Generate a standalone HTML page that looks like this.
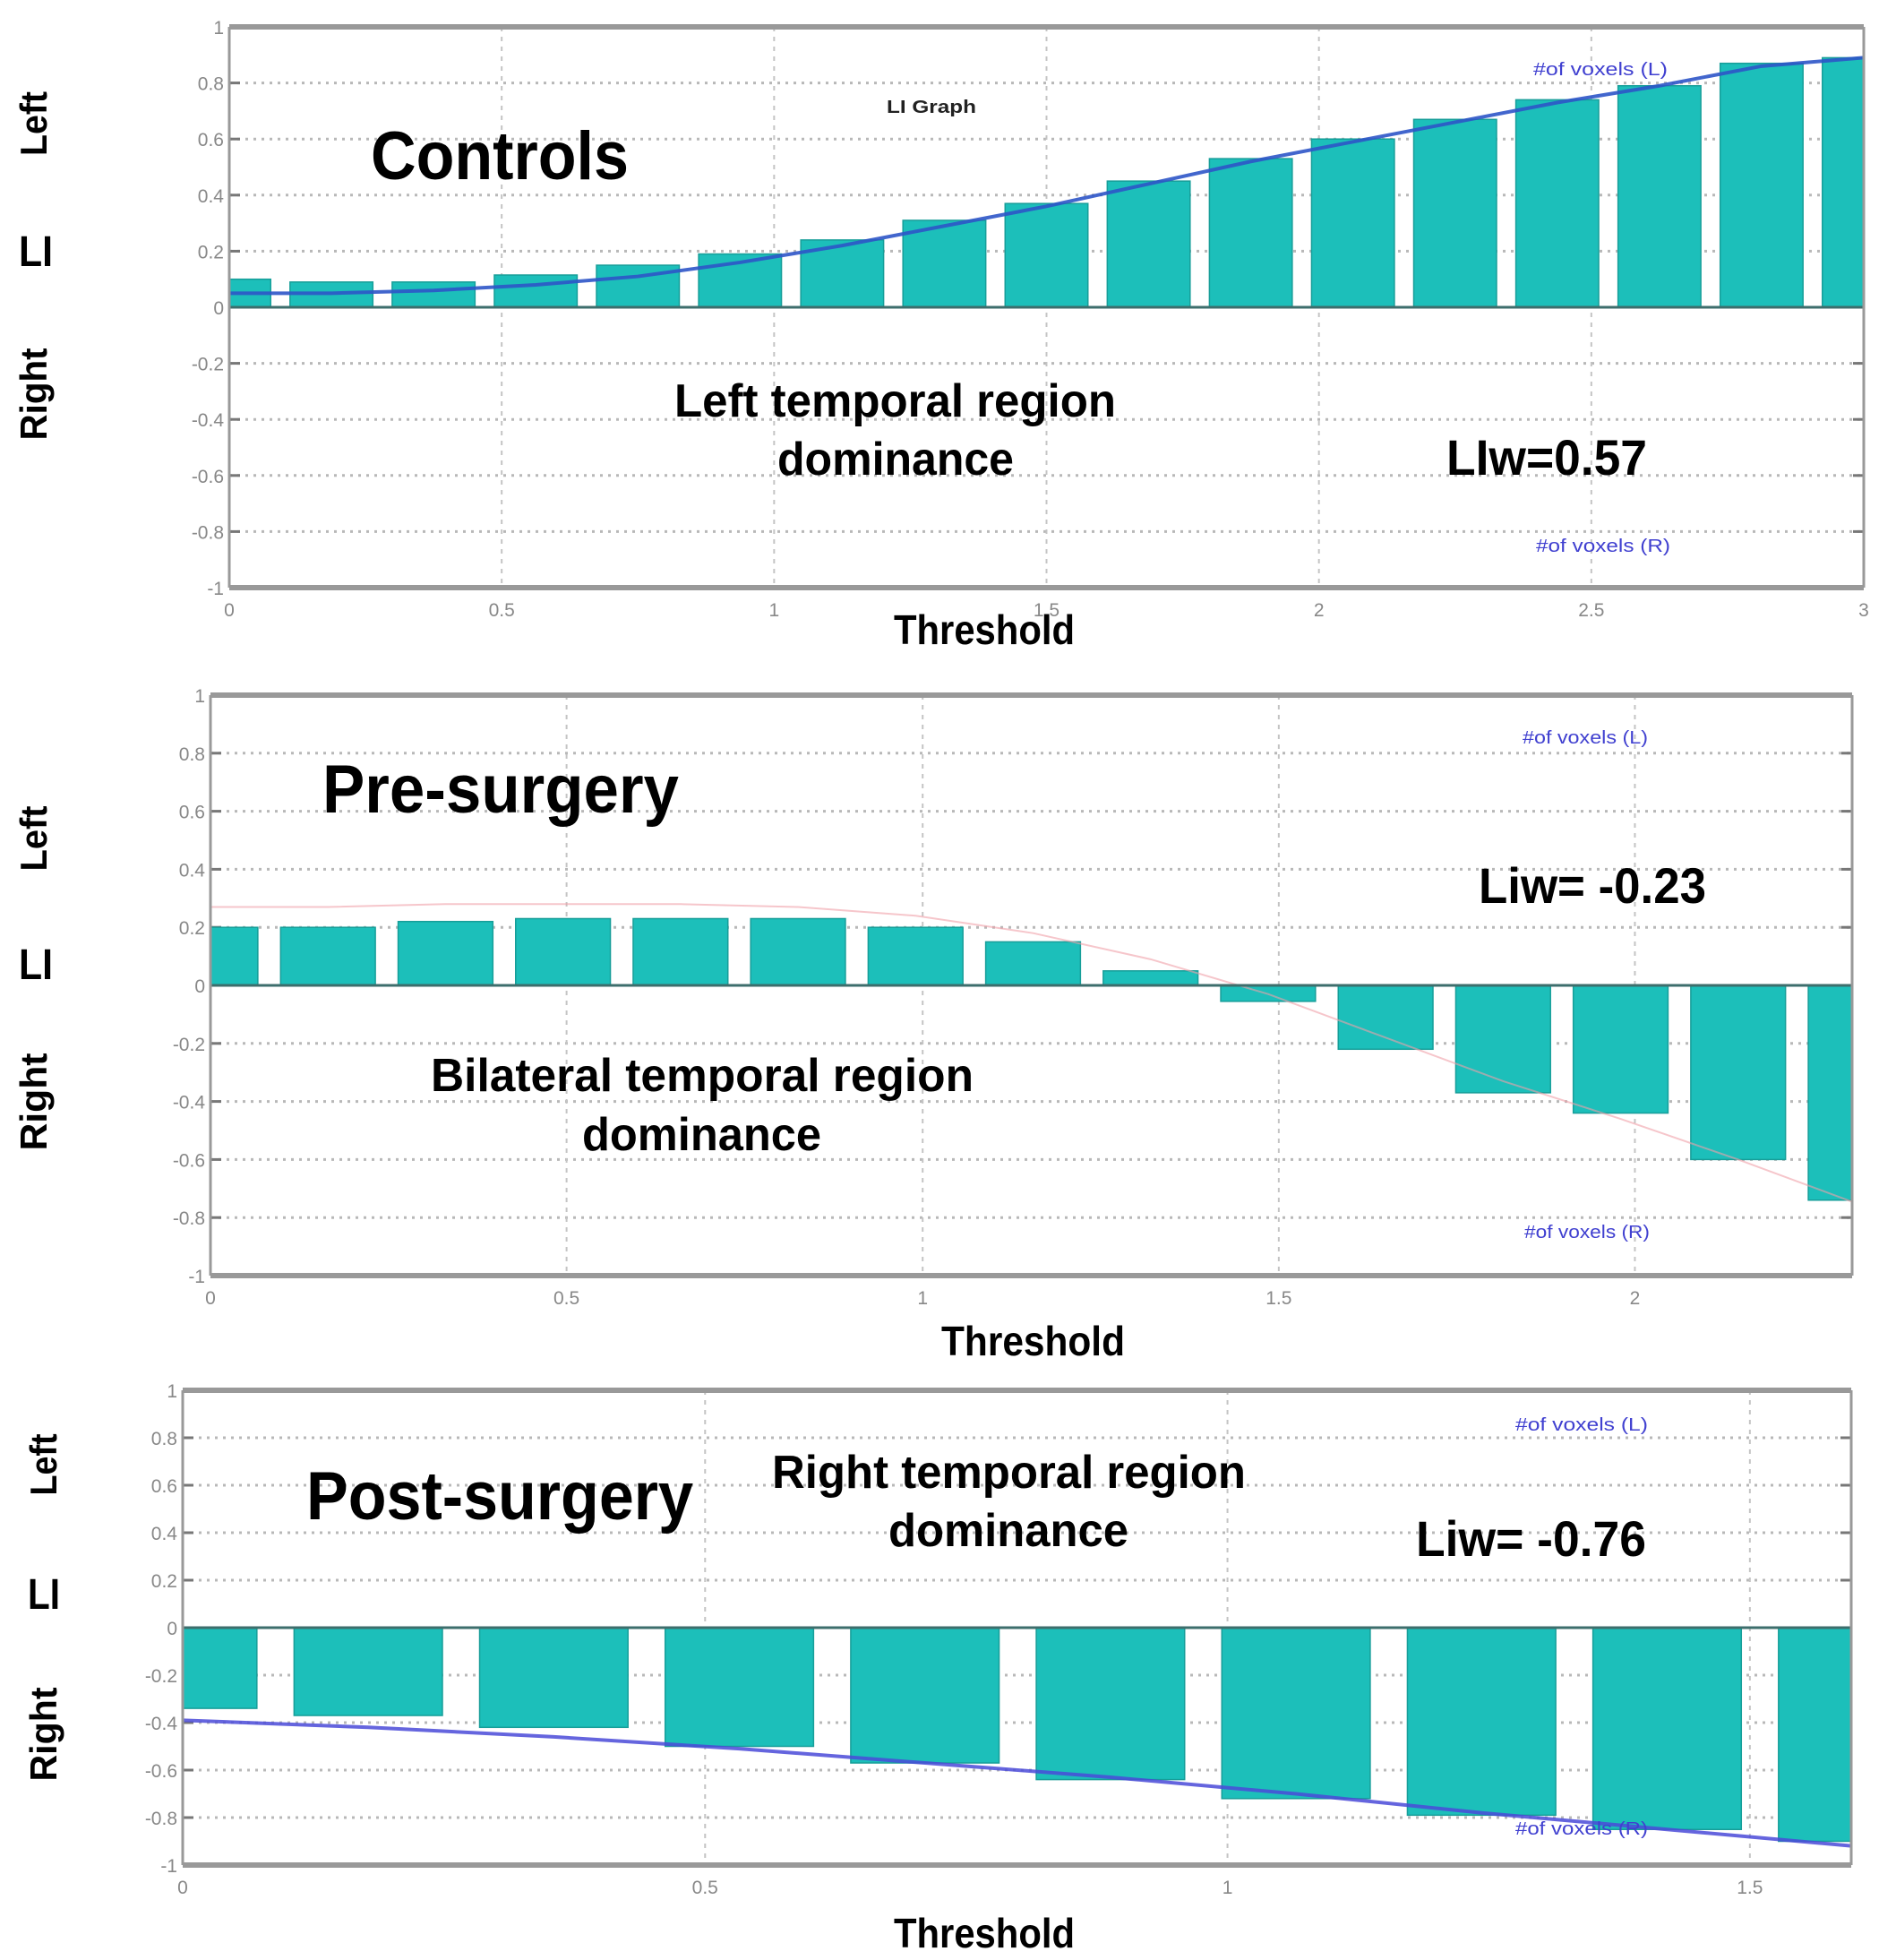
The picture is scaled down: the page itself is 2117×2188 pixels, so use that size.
<!DOCTYPE html>
<html><head><meta charset="utf-8"><style>
html,body{margin:0;padding:0;background:#fff}
svg{display:block}
text{font-family:"Liberation Sans",sans-serif}
</style></head><body>
<svg id="fig" width="2117" height="2188" viewBox="0 0 2117 2188" xmlns="http://www.w3.org/2000/svg">
<rect width="2117" height="2188" fill="#fff"/>
</svg>
<script>
// Panel 1: Controls
const p1Values=[0.10,0.09,0.09,0.115,0.15,0.19,0.24,0.31,0.37,0.45,0.53,0.60,0.67,0.74,0.79,0.87,0.89];
const p1Line=[0.05,0.05,0.06,0.08,0.11,0.16,0.22,0.29,0.36,0.44,0.52,0.59,0.66,0.73,0.79,0.86,0.89];
const p1XTicks=[0,0.5,1,1.5,2,2.5,3];
// Panel 2: Pre-surgery
const p2Values=[0.20,0.20,0.22,0.23,0.23,0.23,0.20,0.15,0.05,-0.055,-0.22,-0.37,-0.44,-0.60,-0.74];
const p2Line=[0.27,0.27,0.28,0.28,0.28,0.27,0.24,0.18,0.09,-0.03,-0.18,-0.33,-0.46,-0.60,-0.75];
const p2XTicks=[0,0.5,1,1.5,2];
// Panel 3: Post-surgery
const p3Values=[-0.34,-0.37,-0.42,-0.50,-0.57,-0.64,-0.72,-0.79,-0.85,-0.90];
const p3Line=[-0.39,-0.42,-0.46,-0.51,-0.57,-0.63,-0.70,-0.78,-0.85,-0.92];
const p3XTicks=[0,0.5,1,1.5];
const yTicks=[1,0.8,0.6,0.4,0.2,0,-0.2,-0.4,-0.6,-0.8,-1];
const yTickLabels=["1","0.8","0.6","0.4","0.2","0","-0.2","-0.4","-0.6","-0.8","-1"];

const NS="http://www.w3.org/2000/svg";
const svg=document.getElementById('fig');
function mk(tag,attrs,parent){const e=document.createElementNS(NS,tag);for(const k in attrs)e.setAttribute(k,attrs[k]);(parent||svg).appendChild(e);return e;}

function panel(cfg){
  const g=mk('g',{});
  
  
  const X=v=>cfg.L+(v-0)/(cfg.xmax)*(cfg.R-cfg.L);
  const Y=v=>cfg.B-(v+1)/2*(cfg.B-cfg.T);
  // grid
  yTicks.forEach((t,i)=>{
    if(t!==1&&t!==-1&&t!==0){
      const gl=mk('line',{x1:cfg.L,x2:cfg.R,y1:Y(t),y2:Y(t),stroke:'#b8b8b8','stroke-width':3,'stroke-dasharray':'3 6'},g);
      
      
      mk('line',{x1:cfg.L,x2:cfg.L+12,y1:Y(t),y2:Y(t),stroke:'#777','stroke-width':3},g);
      mk('line',{x1:cfg.R-12,x2:cfg.R,y1:Y(t),y2:Y(t),stroke:'#777','stroke-width':3},g);
    }
    const tl=mk('text',{x:cfg.L-6,y:Y(t)+8,'text-anchor':'end','font-size':21,fill:'#888'},g);
    tl.textContent=yTickLabels[i];
    
    
  });
  cfg.xticks.forEach(t=>{
    if(t>0&&t<cfg.xmax-0.01){
      const gl=mk('line',{x1:X(t),x2:X(t),y1:cfg.T,y2:cfg.B,stroke:'#c4c4c4','stroke-width':2,'stroke-dasharray':'5 6'},g);
      
      
    }
    const tl=mk('text',{x:X(t),y:cfg.B+32,'text-anchor':'middle','font-size':21,fill:'#888'},g);
    tl.textContent=String(t);
    
    
  });
  // bars
  const clip=mk('clipPath',{id:'c'+cfg.name},g);
  mk('rect',{x:cfg.L,y:cfg.T,width:cfg.R-cfg.L,height:cfg.B-cfg.T},clip);
  const bg=mk('g',{'clip-path':'url(#c'+cfg.name+')'},g);
  cfg.values.forEach((v,i)=>{
    const c=i*cfg.pitch;
    const x0=X(c-cfg.bw/2),x1=X(c+cfg.bw/2);
    const y0=Y(Math.max(v,0)),y1=Y(Math.min(v,0));
    const b=mk('rect',{x:x0,y:y0,width:x1-x0,height:Math.max(y1-y0,1),fill:'#1cbfba',stroke:'#179e99','stroke-width':1.5},bg);
    
    
  });
  // line
  const pts=cfg.line.map((v,i)=>X(i*cfg.pitch)+','+Y(v)).join(' ');
  const ln=mk('polyline',{points:pts,fill:'none',stroke:cfg.lineColor,'stroke-width':cfg.lineW,opacity:cfg.lineOp},bg);
  
  
  // zero line
  const z=mk('line',{x1:cfg.L,x2:cfg.R,y1:Y(0),y2:Y(0),stroke:'#3d6e6c','stroke-width':3},g);
  
  
  // frame
  mk('line',{x1:cfg.L,x2:cfg.R,y1:cfg.T,y2:cfg.T,stroke:'#999','stroke-width':6},g);
  mk('line',{x1:cfg.L,x2:cfg.R,y1:cfg.B,y2:cfg.B,stroke:'#999','stroke-width':6},g);
  mk('line',{x1:cfg.L,x2:cfg.L,y1:cfg.T,y2:cfg.B,stroke:'#999','stroke-width':3},g);
  mk('line',{x1:cfg.R,x2:cfg.R,y1:cfg.T,y2:cfg.B,stroke:'#999','stroke-width':3},g);
  return g;
}
panel({name:'controls-panel',L:256,R:2081,T:30,B:656,xmax:3.0,pitch:0.1875,bw:0.152,values:p1Values,line:p1Line,xticks:p1XTicks,lineColor:'#2d55c8',lineW:4,lineOp:0.9});
panel({name:'pre-surgery-panel',L:235,R:2068,T:776,B:1424,xmax:2.305,pitch:0.165,bw:0.133,values:p2Values,line:p2Line,xticks:p2XTicks,lineColor:'#f0a0a8',lineW:2,lineOp:0.6});
panel({name:'post-surgery-panel',L:204,R:2067,T:1552,B:2082,xmax:1.597,pitch:0.1776,bw:0.142,values:p3Values,line:p3Line,xticks:p3XTicks,lineColor:'#4a4ad8',lineW:4,lineOp:0.85});

function txt(name,x,y,s,size,len,opts){
  const t=mk('text',Object.assign({x:x,y:y,'font-size':size,'font-weight':'bold',fill:'#000'},opts||{}));
  if(len){t.setAttribute('textLength',len);t.setAttribute('lengthAdjust','spacingAndGlyphs');}
  t.textContent=s;
  
  
  return t;
}
// panel 1 texts
txt('controls-title',414,200,'Controls',76,288);
txt('li-graph-title',990,126,'LI Graph',20,100,{fill:'#222'});
txt('voxels-left-label',1712,84,'#of voxels (L)',20,150,{fill:'#4040d0','font-weight':'normal'});
txt('voxels-right-label',1715,616,'#of voxels (R)',20,150,{fill:'#4040d0','font-weight':'normal'});
txt('region-label-line1',753,465,'Left temporal region',52,493);
txt('region-label-line2',868,530,'dominance',52,264);
txt('liw-value',1615,530,'LIw=0.57',56,224);
txt('x-axis-title',998,719,'Threshold',46,202);
// panel 2 texts
txt('pre-surgery-title',360,907,'Pre-surgery',76,398);
txt('voxels-left-label',1700,830,'#of voxels (L)',20,140,{fill:'#4040d0','font-weight':'normal'});
txt('voxels-right-label',1702,1382,'#of voxels (R)',20,140,{fill:'#4040d0','font-weight':'normal'});
txt('region-label-line1',481,1218,'Bilateral temporal region',52,606);
txt('region-label-line2',650,1284,'dominance',52,267);
txt('liw-value',1651,1008,'Liw= -0.23',56,254);
txt('x-axis-title',1051,1513,'Threshold',46,205);
// panel 3 texts
txt('post-surgery-title',342,1696,'Post-surgery',76,432);
txt('voxels-left-label',1692,1597,'#of voxels (L)',20,148,{fill:'#4040d0','font-weight':'normal'});
txt('voxels-right-label',1692,2048,'#of voxels (R)',20,148,{fill:'#4040d0','font-weight':'normal'});
txt('region-label-line1',862,1661,'Right temporal region',52,529);
txt('region-label-line2',992,1726,'dominance',52,268);
txt('liw-value',1581,1737,'Liw= -0.76',56,257);
txt('x-axis-title',998,2174,'Threshold',46,202);
// side labels
function side(name,x,y,s,len){
  const t=txt(name,0,0,s,42,len,{'text-anchor':'middle',transform:'translate('+x+','+y+') rotate(-90)'});
  return t;
}
side('left-side-label',52,138,'Left',72);
txt('li-axis-label',21,297,'LI',48,38);
side('right-side-label',52,440,'Right',103);
side('left-side-label',52,936,'Left',73);
txt('li-axis-label',21,1093,'LI',48,38);
side('right-side-label',52,1230,'Right',109);
side('left-side-label',63,1635,'Left',69);
txt('li-axis-label',31,1796,'LI',48,36);
side('right-side-label',63,1936,'Right',105);
</script>
</body></html>
